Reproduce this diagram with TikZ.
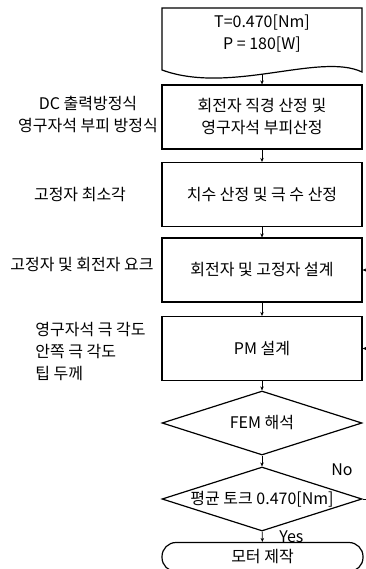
\documentclass[tikz,border=0pt]{standalone}
\usepackage{fontspec}
\setmainfont{Noto Sans CJK KR}
\usetikzlibrary{arrows.meta,shapes.geometric}
\newcommand\W{200}

\begin{document}
\begin{tikzpicture}[x=1pt,y=-1pt,->,>={Stealth[length=4pt,width=3.5pt]},
                    line width=0.7pt,font=\fontsize{16}{22}\selectfont]

  \useasboundingbox (0,0) rectangle (365,569);

  \tikzstyle{proc}=[rectangle,draw,line width=1.2pt,minimum width=\W pt,
                    minimum height=64pt,align=center,inner sep=2pt]
  \tikzstyle{dec}=[diamond,draw,line width=1.2pt,minimum width=\W pt,
                   minimum height=64pt,aspect=3.1,inner sep=0pt]
  \tikzstyle{term}=[rectangle,draw,line width=1.2pt,rounded corners=14pt,
                    minimum width=201pt,minimum height=29pt]
  \tikzstyle{note}=[align=center,inner sep=0pt]

  % input
  \draw[-,line width=1.2pt] (162,70) -- (162,8) -- (362,8) -- (362,72)
       .. controls (320,52) and (230,95) .. cycle;
  \node[note] (in)  at (262,34)    {T=0.470[Nm]\\P = 180[W]};
  \coordinate (inb) at (262,74);

  \node[proc] (rot) at (262,117)   {회전자 직경 산정 및\\영구자석 부피산정};
  \node[proc] (dim) at (262,194.5) {치수 산정 및 극 수 산정};
  \node[proc] (yok) at (262,270)   {회전자 및 고정자 설계};
  \node[proc] (pm)  at (262,348.5) {PM 설계};
  \node[dec]  (fem) at (262,423)   {FEM 해석};
  \node[dec]  (trq) at (262,499)   {평균 토크 0.470[Nm]};
  \node[term] (mot) at (262.5,557) {모터 제작};

  % notes
  \node[note] (eqn) at (88,114)   {DC 출력방정식\\영구자석 부피 방정식};
  \node[note] (ang) at (80,195)   {고정자 최소각};
  \node[note] (ykn) at (82,265)   {고정자 및 회전자 요크};
  \node[note,align=left,anchor=west] (tip) at (35,352)
       {영구자석 극 각도\\안쪽 극 각도\\팁 두께};

  \node[note,anchor=west] (no)  at (331,470) {No};
  \node[note,anchor=west] (yes) at (279,537) {Yes};

\path
(inb) edge (rot)
(rot) edge (dim)
(dim) edge (yok)
(yok) edge (pm)
(pm)  edge (fem)
(fem) edge (trq)
(trq) edge (mot)
;

  % back to design
  \coordinate (fb) at (372,499);
  \draw (trq.east) -- (fb) |- (yok.east);
  \draw (fb |- pm.east) -- (pm.east);
\end{tikzpicture}
\end{document}
